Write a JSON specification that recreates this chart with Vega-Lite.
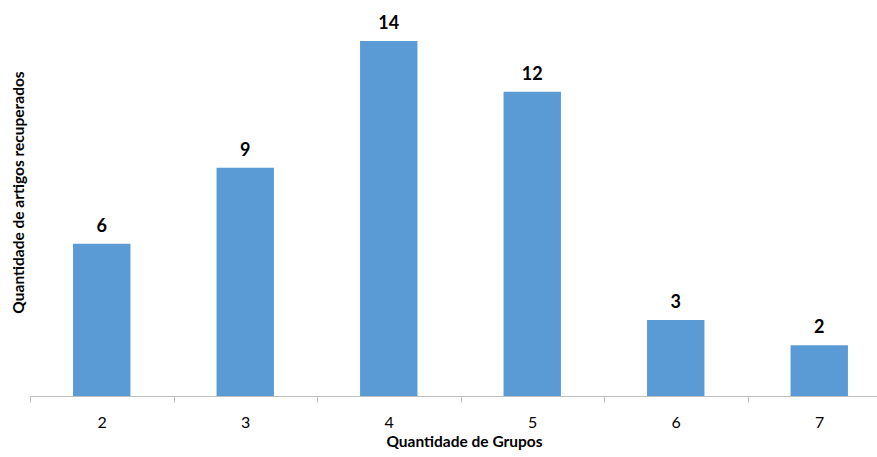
{
  "$schema": "https://vega.github.io/schema/vega-lite/v6.json",
  "width": 847,
  "height": 355,
  "autosize": "none",
  "padding": {"left": 30, "top": 41, "right": 0, "bottom": 61},
  "background": "white",
  "config": {
    "view": {"stroke": null},
    "font": "Lato"
  },
  "data": {
    "values": [
      {"grupos": "2", "artigos": 6},
      {"grupos": "3", "artigos": 9},
      {"grupos": "4", "artigos": 14},
      {"grupos": "5", "artigos": 12},
      {"grupos": "6", "artigos": 3},
      {"grupos": "7", "artigos": 2}
    ]
  },
  "encoding": {
    "x": {
      "field": "grupos",
      "type": "nominal",
      "sort": null,
      "scale": {"range": [0, 861], "paddingInner": 0, "paddingOuter": 0},
      "axis": {
        "title": "Quantidade de Grupos",
        "labelAngle": 0,
        "labelFont": "Lato",
        "labelFontSize": 16,
        "labelColor": "#000000",
        "labelBaseline": "alphabetic",
        "labelPadding": 25,
        "tickBand": "extent",
        "tickSize": 6,
        "tickColor": "#BFBFBF",
        "domainColor": "#BFBFBF",
        "titleFont": "Lato",
        "titleFontSize": 15.5,
        "titleFontWeight": "bold",
        "titleColor": "#000000",
        "titleBaseline": "alphabetic",
        "titleAlign": "center",
        "titleX": 434,
        "titleY": 50,
        "grid": false
      }
    },
    "y": {
      "field": "artigos",
      "type": "quantitative",
      "scale": {"domain": [0, 14], "nice": false},
      "axis": {
        "title": "Quantidade de artigos recuperados",
        "domain": false,
        "ticks": false,
        "labels": false,
        "grid": false,
        "titleFont": "Lato",
        "titleFontSize": 15.5,
        "titleFontWeight": "bold",
        "titleColor": "#000000",
        "titleAngle": 270,
        "titleAlign": "center",
        "titleBaseline": "middle",
        "titleX": -12,
        "titleY": 151
      }
    }
  },
  "layer": [
    {
      "mark": {"type": "bar", "color": "#5B9BD5", "width": {"band": 0.4}}
    },
    {
      "mark": {
        "type": "text",
        "baseline": "alphabetic",
        "dy": -12,
        "fontSize": 18,
        "fontWeight": "bold",
        "color": "#000000",
        "font": "Lato"
      },
      "encoding": {"text": {"field": "artigos", "type": "quantitative"}}
    }
  ]
}
